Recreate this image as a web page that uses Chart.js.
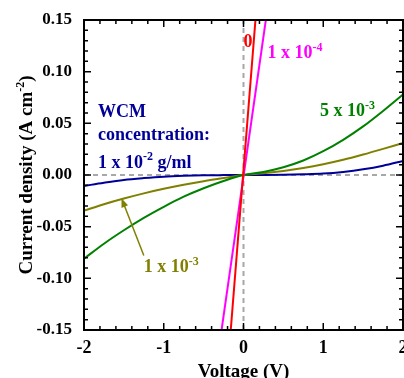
<!DOCTYPE html>
<html>
<head>
<meta charset="utf-8">
<script src="https://cdn.jsdelivr.net/npm/chart.js@4"></script>
<style>
  html, body { margin: 0; padding: 0; background: #fff; overflow: hidden; }
  #wrap { width: 404px; height: 378px; }
</style>
</head>
<body>
<div id="wrap"><canvas id="ivChart" width="404" height="378"></canvas></div>
<script>
// Tensão (V) e densidade de corrente (A cm-2)
const voltage = [-2, -1.75, -1.5, -1.25, -1, -0.75, -0.5, -0.25, 0, 0.25, 0.5, 0.75, 1, 1.25, 1.5, 1.75, 2];
const j5e3 = [-0.081, -0.0665, -0.0535, -0.0415, -0.0308, -0.021, -0.0128, -0.0058, 0, 0.003, 0.0075, 0.014, 0.023, 0.034, 0.047, 0.062, 0.078];
const j1e3 = [-0.0345, -0.0283, -0.0228, -0.0178, -0.0134, -0.0095, -0.006, -0.0029, 0, 0.0017, 0.0039, 0.0068, 0.0104, 0.0147, 0.0198, 0.0253, 0.031];
const j1e2 = [-0.0106, -0.0075, -0.0048, -0.003, -0.0016, -0.0008, -0.0003, -0.0001, 0, 0.0001, 0.0003, 0.0007, 0.0014, 0.003, 0.0055, 0.009, 0.0136];
// curvas quase retas (0 e 1e-4): pontos nas bordas do eixo
const line0V = [-0.16, 0.15];
const line0J = [-0.15, 0.15];
const line1e4V = [-0.275, 0.28];
const line1e4J = [-0.15, 0.15];

const xTicks = [-2, -1, 0, 1, 2];
const yTicks = [-0.15, -0.10, -0.05, 0.00, 0.05, 0.10, 0.15];

const FONT = "'Liberation Serif', 'Times New Roman', serif";

function pts(xs, ys) {
    return xs.map((x, i) => ({ x: x, y: ys[i] }));
}

// texto com expoente
function drawRich(ctx, parts, x, y, size, color) {
    ctx.save();
    ctx.fillStyle = color;
    ctx.textBaseline = 'alphabetic';
    ctx.textAlign = 'left';
    let cx = x;
    parts.forEach(p => {
        if (p.sup) {
            ctx.font = 'bold ' + Math.round(size * 0.65) + 'px ' + FONT;
            ctx.fillText(p.t, cx, y - size * 0.42);
        } else {
            ctx.font = 'bold ' + size + 'px ' + FONT;
            ctx.fillText(p.t, cx, y);
        }
        cx += ctx.measureText(p.t).width;
    });
    ctx.restore();
    return cx - x;
}

function richWidth(ctx, parts, size) {
    let w = 0;
    ctx.save();
    parts.forEach(p => {
        ctx.font = 'bold ' + (p.sup ? Math.round(size * 0.65) : size) + 'px ' + FONT;
        w += ctx.measureText(p.t).width;
    });
    ctx.restore();
    return w;
}

const framePlugin = {
    id: 'frame',
    afterDatasetsDraw(chart) {
        const ctx = chart.ctx;
        const a = chart.chartArea;
        const xs = chart.scales.x, ys = chart.scales.y;
        ctx.save();
        ctx.strokeStyle = '#000';
        ctx.lineWidth = 2;
        ctx.strokeRect(a.left, a.top, a.right - a.left, a.bottom - a.top);
        ctx.lineWidth = 1.5;
        ctx.beginPath();
        // marcas internas do eixo x (passo 0.2, maiores nos inteiros)
        for (let i = -10; i <= 10; i++) {
            const px = xs.getPixelForValue(i * 0.2);
            const len = (i % 5 === 0) ? 7 : 4;
            ctx.moveTo(px, a.bottom); ctx.lineTo(px, a.bottom - len);
            ctx.moveTo(px, a.top); ctx.lineTo(px, a.top + len);
        }
        // marcas internas do eixo y (passo 0.01, maiores a cada 0.05)
        for (let i = -15; i <= 15; i++) {
            const py = ys.getPixelForValue(i * 0.01);
            const len = (i % 5 === 0) ? 7 : 4;
            ctx.moveTo(a.left, py); ctx.lineTo(a.left + len, py);
            ctx.moveTo(a.right, py); ctx.lineTo(a.right - len, py);
        }
        ctx.stroke();
        ctx.restore();

        // anotações
        const P = (v, j) => [xs.getPixelForValue(v), ys.getPixelForValue(j)];
        let p;
        p = P(0.0, 0.124);
        drawRich(ctx, [{ t: '0' }], p[0], p[1], 18, '#ff0000');
        p = P(0.3, 0.113);
        drawRich(ctx, [{ t: '1 x 10' }, { t: '-4', sup: true }], p[0], p[1], 18, '#ff00ff');
        p = P(0.96, 0.057);
        drawRich(ctx, [{ t: '5 x 10' }, { t: '-3', sup: true }], p[0], p[1], 18, '#008000');
        p = P(-1.825, 0.056);
        drawRich(ctx, [{ t: 'WCM' }], p[0], p[1], 18, '#000099');
        p = P(-1.825, 0.034);
        drawRich(ctx, [{ t: 'concentration:' }], p[0], p[1], 18, '#000099');
        p = P(-1.825, 0.0068);
        drawRich(ctx, [{ t: '1 x 10' }, { t: '-2', sup: true }, { t: ' g/ml' }], p[0], p[1], 18, '#000099');
        p = P(-1.25, -0.094);
        drawRich(ctx, [{ t: '1 x 10' }, { t: '-3', sup: true }], p[0], p[1], 18, '#808000');

        // seta do 1e-3
        const tail = P(-1.25, -0.078), tip = P(-1.53, -0.0225);
        const ang = Math.atan2(tip[1] - tail[1], tip[0] - tail[0]);
        ctx.save();
        ctx.strokeStyle = '#808000';
        ctx.fillStyle = '#808000';
        ctx.lineWidth = 1.5;
        ctx.beginPath();
        ctx.moveTo(tail[0], tail[1]);
        ctx.lineTo(tip[0] - 6 * Math.cos(ang), tip[1] - 6 * Math.sin(ang));
        ctx.stroke();
        ctx.beginPath();
        ctx.moveTo(tip[0], tip[1]);
        ctx.lineTo(tip[0] - 9 * Math.cos(ang) + 3.5 * Math.sin(ang), tip[1] - 9 * Math.sin(ang) - 3.5 * Math.cos(ang));
        ctx.lineTo(tip[0] - 9 * Math.cos(ang) - 3.5 * Math.sin(ang), tip[1] - 9 * Math.sin(ang) + 3.5 * Math.cos(ang));
        ctx.closePath();
        ctx.fill();
        ctx.restore();

        // título do eixo y com expoente
        const yParts = [{ t: 'Current density (A cm' }, { t: '-2', sup: true }, { t: ')' }];
        const w = richWidth(ctx, yParts, 19);
        ctx.save();
        ctx.translate(32, (a.top + a.bottom) / 2);
        ctx.rotate(-Math.PI / 2);
        drawRich(ctx, yParts, -w / 2, 0, 19, '#000');
        ctx.restore();
    }
};

const ctxIV = document.getElementById('ivChart').getContext('2d');
const ivChart = new Chart(ctxIV, {
    type: 'line',
    data: {
        datasets: [
            { label: '0', data: pts(line0V, line0J), borderColor: '#ff0000', borderWidth: 2, pointRadius: 0 },
            { label: '1 x 10-4', data: pts(line1e4V, line1e4J), borderColor: '#ff00ff', borderWidth: 2, pointRadius: 0 },
            { label: '5 x 10-3', data: pts(voltage, j5e3), borderColor: '#008000', borderWidth: 2, pointRadius: 0, cubicInterpolationMode: 'monotone' },
            { label: '1 x 10-3', data: pts(voltage, j1e3), borderColor: '#808000', borderWidth: 2, pointRadius: 0, cubicInterpolationMode: 'monotone' },
            { label: '1 x 10-2', data: pts(voltage, j1e2), borderColor: '#000099', borderWidth: 2, pointRadius: 0, cubicInterpolationMode: 'monotone' },
            { label: 'zeroH', data: pts([-2, 2], [0, 0]), borderColor: '#a8a8a8', borderWidth: 2, borderDash: [5, 4], pointRadius: 0, order: 10 },
            { label: 'zeroV', data: pts([0, 0], [-0.15, 0.15]), borderColor: '#a8a8a8', borderWidth: 2, borderDash: [5, 4], pointRadius: 0, order: 10 }
        ]
    },
    options: {
        responsive: false,
        animation: false,
        layout: { padding: { left: 0, right: 1, top: 20, bottom: 0 } },
        plugins: { legend: { display: false }, tooltip: { enabled: false } },
        scales: {
            x: {
                type: 'linear',
                min: -2, max: 2,
                afterBuildTicks: s => { s.ticks = xTicks.map(v => ({ value: v })); },
                afterFit: s => { s.height = 48; s.paddingLeft = 0; s.paddingRight = 0; },
                grid: { display: false, drawTicks: false },
                border: { display: false },
                ticks: { color: '#000', padding: 8, font: { family: FONT, size: 18, weight: 'bold' }, maxRotation: 0, callback: v => String(v) },
                title: { display: true, text: 'Voltage (V)', color: '#000', padding: { top: 0, bottom: -5 }, font: { family: FONT, size: 19, weight: 'bold' } }
            },
            y: {
                type: 'linear',
                min: -0.15, max: 0.15,
                afterBuildTicks: s => { s.ticks = yTicks.map(v => ({ value: v })); },
                afterFit: s => { s.width = 84; s.paddingTop = 0; s.paddingBottom = 0; },
                grid: { display: false, drawTicks: false },
                border: { display: false },
                ticks: { color: '#000', padding: 12, font: { family: FONT, size: 17, weight: 'bold' }, callback: v => v.toFixed(2) }
            }
        }
    },
    plugins: [framePlugin]
});
</script>
</body>
</html>
